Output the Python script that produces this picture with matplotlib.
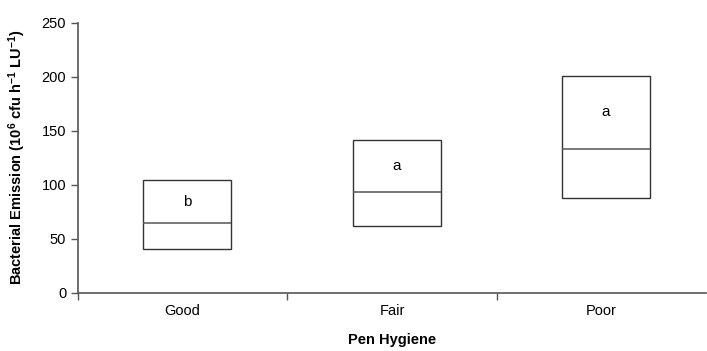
import matplotlib
matplotlib.use("Agg")
import matplotlib.pyplot as plt
import numpy as np

categories = ["Good", "Fair", "Poor"]
lows = [40.5, 61.5, 87.5]
medians = [64.5, 93, 133]
highs = [104, 141, 200.5]
letters = ["b", "a", "a"]

plt.rcParams["font.family"] = ["Liberation Sans", "DejaVu Sans"]
plt.rcParams["mathtext.fontset"] = "custom"
plt.rcParams["mathtext.rm"] = "Liberation Sans:bold"
plt.rcParams["mathtext.bf"] = "Liberation Sans:bold"
plt.rcParams["mathtext.default"] = "bf"

fig = plt.figure(figsize=(7.07, 3.51), dpi=100)
ax = fig.add_axes([78 / 707, 58.5 / 351, 628 / 707, 270 / 351])

x = np.arange(len(categories))
lows_a = np.array(lows)
highs_a = np.array(highs)
off = 0.022
ax.bar(x + off, highs_a - lows_a, bottom=lows_a, width=0.42, fill=False,
       edgecolor="#333333", linewidth=1.0)
ax.hlines(medians, x + off - 0.21, x + off + 0.21, color="#555555", linewidth=1.1)
for xi, m, h, t in zip(x, medians, highs, letters):
    ax.text(xi + off, (m + h) / 2, t, ha="center", va="center", fontsize=11)

ax.set_xlim(-0.5, 2.5)
ax.set_ylim(0, 250)
ax.set_yticks(range(0, 251, 50))
ax.set_xticks([-0.5, 0.5, 1.5])
ax.set_xticklabels([])
ax.set_xticks(x, minor=True)
ax.set_xticklabels(categories, minor=True)
ax.tick_params(axis="x", which="minor", length=0, pad=8, labelsize=10.5)
ax.tick_params(axis="both", which="major", length=5, width=1, color="#555555",
               labelsize=10.5, direction="out")

for s in ["top", "right"]:
    ax.spines[s].set_visible(False)
for s in ["left", "bottom"]:
    ax.spines[s].set_color("#555555")
    ax.spines[s].set_linewidth(1.2)

ax.set_xlabel("Pen Hygiene", fontweight="bold", fontsize=10.5, labelpad=11)
ax.set_ylabel(r"Bacterial Emission (10$^6$ cfu h$^{-1}$ LU$^{-1}$)",
              fontweight="bold", fontsize=10.5, labelpad=10)

fig.savefig("out.png", dpi=100)
